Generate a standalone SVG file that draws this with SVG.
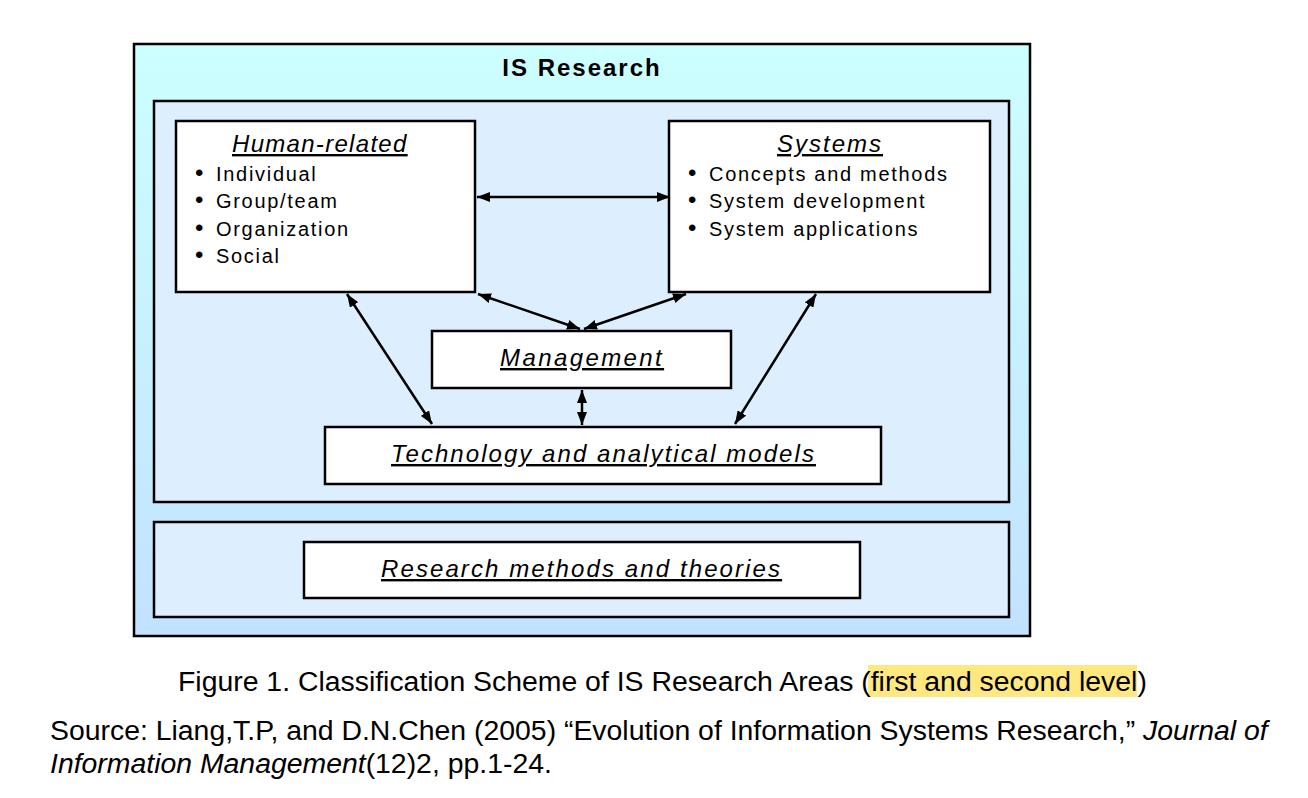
<svg xmlns="http://www.w3.org/2000/svg" width="1308" height="798" viewBox="0 0 1308 798">
<defs>
<linearGradient id="outerGrad" x1="0" y1="0" x2="0" y2="1">
<stop offset="0" stop-color="#CCFFFF"/>
<stop offset="1" stop-color="#C2E2FF"/>
</linearGradient>
<marker id="ah" viewBox="0 0 13 10" refX="13" refY="5" markerWidth="13" markerHeight="10" markerUnits="userSpaceOnUse" orient="auto-start-reverse">
<path d="M0,0 L13,5 L0,10 Z" fill="#000"/>
</marker>
</defs>
<style>
.box{fill:#fff;stroke:#000;stroke-width:2.5}
.panel{fill:#DDEEFF;stroke:#000;stroke-width:2.5}
.title{font-family:"Liberation Sans",Arial,sans-serif;font-size:24px;font-style:italic;text-decoration:underline;fill:#000}
.item{font-family:"Liberation Sans",Arial,sans-serif;font-size:20px;letter-spacing:1.7px;fill:#000}
.bul{font-size:24px;letter-spacing:0}
.cap{font-family:"Liberation Sans",Arial,sans-serif;font-size:28.4px;fill:#000}
.conn{stroke:#000;stroke-width:2.5;fill:none;marker-start:url(#ah);marker-end:url(#ah)}
</style>
<rect width="1308" height="798" fill="#fff"/>
<g id="is-research">
<rect x="134" y="44" width="896" height="592" fill="url(#outerGrad)" stroke="#000" stroke-width="2.5"/>
<text x="582" y="76" text-anchor="middle" font-family="'Liberation Sans',Arial,sans-serif" font-size="24" font-weight="bold" letter-spacing="2">IS Research</text>
</g>
<g id="panel-top">
<rect x="154" y="101" width="855" height="401" class="panel"/>
</g>
<g id="panel-bottom">
<rect x="154" y="522" width="855" height="95" class="panel"/>
</g>
<g id="human-related">
<rect x="176" y="121" width="299" height="171" class="box"/>
<text x="232" y="152" letter-spacing="1.3" class="title">Human-related</text>
<text x="195" y="181" class="item"><tspan class="bul">•</tspan><tspan x="216">Individual</tspan></text>
<text x="195" y="208" class="item"><tspan class="bul">•</tspan><tspan x="216">Group/team</tspan></text>
<text x="195" y="236" class="item"><tspan class="bul">•</tspan><tspan x="216">Organization</tspan></text>
<text x="195" y="263" class="item"><tspan class="bul">•</tspan><tspan x="216">Social</tspan></text>
</g>
<g id="systems">
<rect x="669" y="121" width="321" height="171" class="box"/>
<text x="777" y="152" letter-spacing="2" class="title">Systems</text>
<text x="688" y="181" class="item"><tspan class="bul">•</tspan><tspan x="709">Concepts and methods</tspan></text>
<text x="688" y="208" class="item"><tspan class="bul">•</tspan><tspan x="709">System development</tspan></text>
<text x="688" y="236" class="item"><tspan class="bul">•</tspan><tspan x="709">System applications</tspan></text>
</g>
<g id="management">
<rect x="432" y="331" width="299" height="57" class="box"/>
<text x="500" y="366" letter-spacing="2.4" class="title">Management</text>
</g>
<g id="technology">
<rect x="325" y="427" width="556" height="57" class="box"/>
<text x="391" y="462" letter-spacing="2.05" class="title">Technology and analytical models</text>
</g>
<g id="research-methods">
<rect x="304" y="542" width="556" height="56" class="box"/>
<text x="381" y="577" letter-spacing="2.1" class="title">Research methods and theories</text>
</g>
<g id="connectors">
<line x1="477" y1="197" x2="670" y2="197" class="conn"/>
<line x1="478" y1="294" x2="580" y2="329" class="conn"/>
<line x1="686" y1="294" x2="584" y2="329" class="conn"/>
<line x1="347" y1="294" x2="432" y2="424" class="conn"/>
<line x1="816" y1="294" x2="735" y2="424" class="conn"/>
<line x1="582" y1="390" x2="582" y2="425" class="conn"/>
</g>
<g id="caption">
<rect x="868" y="665" width="269" height="32" fill="#FFE880"/>
<text x="178" y="691" class="cap">Figure 1. Classification Scheme of IS Research Areas (first and second level)</text>
<text x="50" y="740" class="cap">Source: Liang,T.P, and D.N.Chen (2005) “Evolution of Information Systems Research,” <tspan font-style="italic">Journal of</tspan></text>
<text x="50" y="773" class="cap"><tspan font-style="italic">Information Management</tspan>(12)2, pp.1-24.</text>
</g>
</svg>
